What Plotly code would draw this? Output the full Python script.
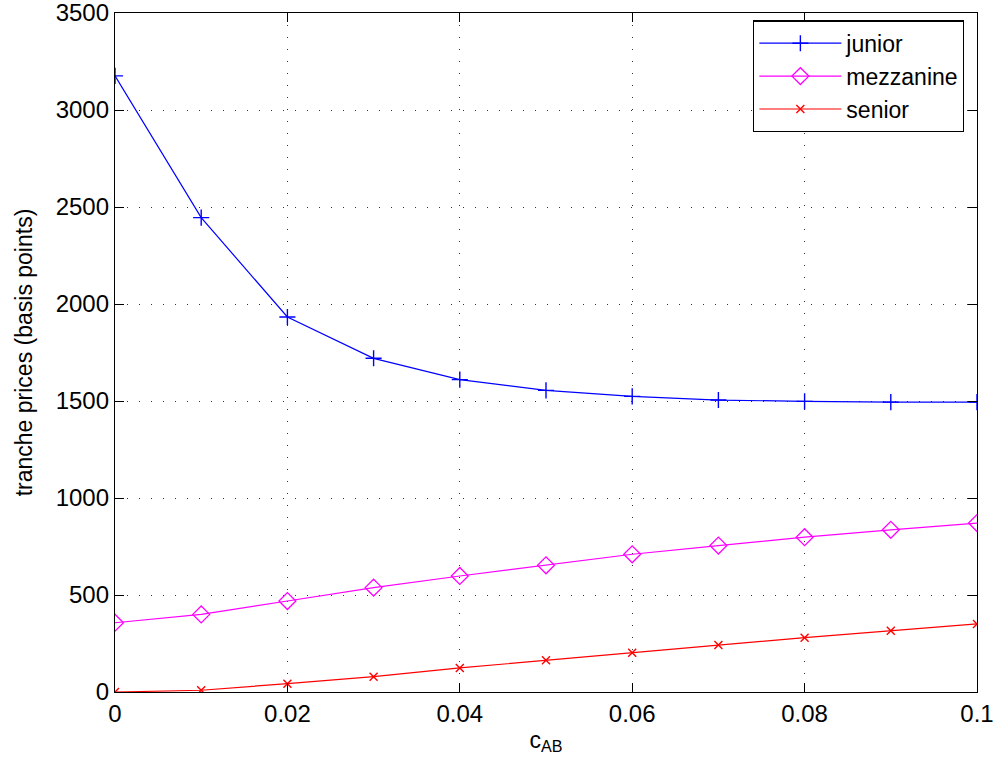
import plotly.graph_objects as go

x_vals = [0, 0.01, 0.02, 0.03, 0.04, 0.05, 0.06, 0.07, 0.08, 0.09, 0.1]
junior = [3176, 2445, 1933, 1720, 1610, 1555, 1524, 1505, 1498, 1494, 1494]
mezzanine = [357, 400, 469, 538, 598, 653, 710, 755, 798, 836, 871]
senior = [0, 9, 43, 79, 124, 164, 202, 242, 280, 316, 351]

x_ticks = [0, 0.02, 0.04, 0.06, 0.08, 0.1]
x_tick_text = ["0", "0.02", "0.04", "0.06", "0.08", "0.1"]
y_ticks = [0, 500, 1000, 1500, 2000, 2500, 3000, 3500]

FONT = "Liberation Sans, Arial, Helvetica, sans-serif"
FS = 24

fig = go.Figure()
fig.add_trace(go.Scatter(x=x_vals, y=junior, name="junior", mode="lines+markers",
                         line=dict(color="#0000ff", width=1.2),
                         marker=dict(symbol="cross-thin", size=11.5, line=dict(color="#0000ff", width=1.4))))
fig.add_trace(go.Scatter(x=x_vals, y=mezzanine, name="mezzanine", mode="lines+markers",
                         line=dict(color="#ff00ff", width=1.2),
                         marker=dict(symbol="diamond-open", size=13, color="#ff00ff", line=dict(color="#ff00ff", width=1.3))))
fig.add_trace(go.Scatter(x=x_vals, y=senior, name="senior", mode="lines+markers",
                         line=dict(color="#ff0000", width=1.2),
                         marker=dict(symbol="x-thin", size=8, line=dict(color="#ff0000", width=1.4))))

axis_common = dict(showline=True, linecolor="black", linewidth=1.3, mirror="ticks",
                   ticks="inside", ticklen=9, tickcolor="black", tickwidth=1,
                   showgrid=True, gridcolor="#333333", gridwidth=1, griddash="1px,11px",
                   zeroline=False, automargin=False, ticklabeloverflow="allow",
                   tickfont=dict(family=FONT, size=FS, color="black"))

fig.update_xaxes(range=[0, 0.1], tickvals=x_ticks, ticktext=x_tick_text,
                 title=dict(text="c<sub>AB</sub>", font=dict(family=FONT, size=FS - 1, color="black"), standoff=5),
                 **axis_common)
fig.update_yaxes(range=[0, 3500], tickvals=y_ticks,
                 title=dict(text="tranche prices (basis points)", font=dict(family=FONT, size=FS - 1, color="black"), standoff=16),
                 **axis_common)

fig.update_layout(
    width=996, height=778,
    margin=dict(l=115, r=19, t=13, b=86),
    plot_bgcolor="white", paper_bgcolor="white",
    font=dict(family=FONT, size=FS, color="black"),
    showlegend=True,
    legend=dict(x=0.985, y=0.989, xanchor="right", yanchor="top",
                bordercolor="black", borderwidth=1.3, bgcolor="white",
                font=dict(family=FONT, size=FS - 1, color="black"),
                tracegroupgap=0, itemwidth=82),
)

fig.write_html("out.html")
